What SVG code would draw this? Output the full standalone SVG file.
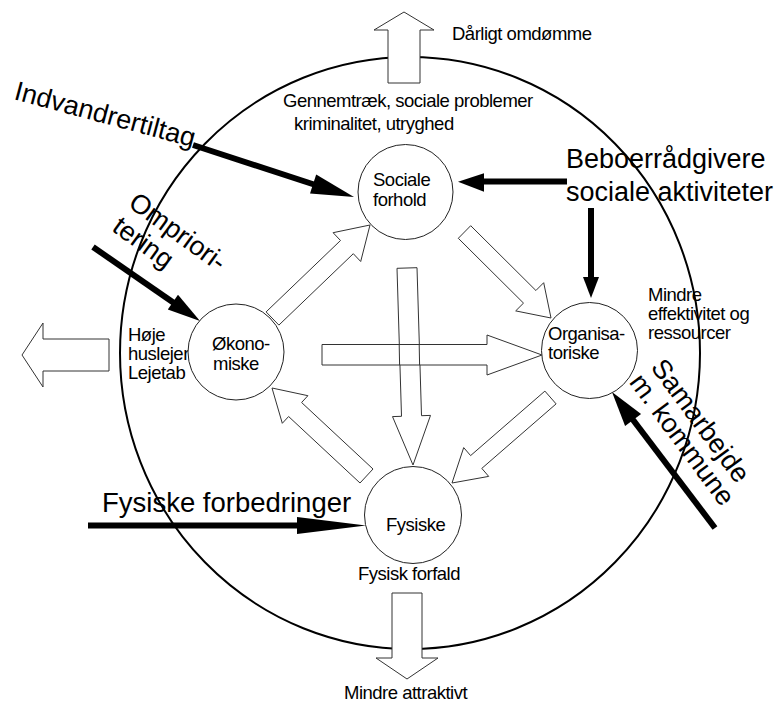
<svg xmlns="http://www.w3.org/2000/svg" width="780" height="704" viewBox="0 0 780 704">
  <style>
    .bg { fill: #ffffff; }
    .ring { fill: none; stroke: #000; stroke-width: 2; }
    .node { fill: #fff; stroke: #222; stroke-width: 1; }
    .t { font-family: "Liberation Sans", Arial, Helvetica, sans-serif; font-size: 18.5px; letter-spacing: -0.5px; fill: #000; }
    .big { font-family: "Liberation Sans", Arial, Helvetica, sans-serif; font-size: 27px; fill: #000; }
    .hollow { fill: #fff; stroke: #333; stroke-width: 1; stroke-linejoin: miter; }
    .hollow-x { fill: none; stroke: #333; stroke-width: 1; }
    .shaft { stroke: #000; stroke-width: 6; fill: none; }
    .head { fill: #000; stroke: none; }
  </style>

  <rect class="bg" x="0" y="0" width="780" height="704"/>

  <!-- outer boundary -->
  <ellipse class="ring" cx="410" cy="353" rx="290" ry="296"/>

  <!-- outward effects -->
  <g id="effects">
    <polygon class="hollow" points="388,83 388,30 374,30 404,12 434,30 420,30 420,83"/>
    <text class="t" x="452" y="40">Dårligt omdømme</text>
    <polygon class="hollow" points="109,339 43,339 43,323 22,355 43,387 43,371 109,371"/>
    <text class="t" x="128" y="341">Høje</text>
    <text class="t" x="128" y="360">huslejer</text>
    <text class="t" x="128" y="379">Lejetab</text>
    <polygon class="hollow" points="392,593 392,658 376,658 407,679 438,658 422,658 422,593"/>
    <text class="t" x="344" y="699">Mindre attraktivt</text>
    <text class="t" x="283" y="107">Gennemtræk, sociale problemer</text>
    <text class="t" x="294" y="130">kriminalitet, utryghed</text>
    <text class="t" x="648" y="301">Mindre</text>
    <text class="t" x="648" y="320">effektivitet og</text>
    <text class="t" x="648" y="339">ressourcer</text>
    <text class="t" x="358" y="580">Fysisk forfald</text>
  </g>

  <!-- connectors between the four areas -->
  <g id="connectors">
    <!-- Økonomiske to Sociale -->
    <polygon class="hollow" points="278.9,325.1 353.3,253.7 360.7,261.5 370,225 333.1,232.7 340.5,240.5 266.1,311.9"/>
    <!-- Sociale to Organisatoriske -->
    <polygon class="hollow" points="458.3,238.3 523.5,303.1 515.7,310.9 551,318 543.7,282.7 535.9,290.5 470.7,225.7"/>
    <!-- Sociale to Fysiske -->
    <polygon class="hollow" points="397,268.3 401.5,416.3 392.5,416.6 413,465 430.5,415.4 421.5,415.7 417,267.7"/>
    <!-- Økonomiske to Organisatoriske -->
    <polygon class="hollow" points="322,344.5 487,344.5 487,335 542,355 487,375 487,365 322,365"/>
    <!-- vertical shaft lines drawn over the crossing -->
    <line class="hollow-x" x1="399.2" y1="344.5" x2="399.6" y2="365"/>
    <line class="hollow-x" x1="419.2" y1="344.5" x2="419.6" y2="365"/>
    <!-- Organisatoriske to Fysiske -->
    <polygon class="hollow" points="544.9,391.1 470.6,455.6 463.7,447.6 452,483 488.7,476.4 481.8,468.4 556.1,403.9"/>
    <!-- Fysiske to Økonomiske -->
    <polygon class="hollow" points="373,469 301.6,402.5 307.9,395.7 272,388 282.3,423.3 288.6,416.5 360,483"/>

    <!-- measures acting from outside -->
    <line class="shaft" x1="193" y1="145" x2="314" y2="184.5"/>
    <polygon class="head" points="310,193.5 354,197 316.2,174.5"/>

    <line class="shaft" x1="567" y1="181.5" x2="482" y2="181.5"/>
    <polygon class="head" points="484,173.3 458,181.7 484,191.7"/>

    <line class="shaft" x1="591" y1="208" x2="591" y2="278"/>
    <polygon class="head" points="583,277 591,298 599,277"/>

    <line class="shaft" x1="715" y1="528" x2="632" y2="418.5"/>
    <polygon class="head" points="641.1,413.9 612,392 625.1,425.9"/>

    <line class="shaft" x1="93" y1="247" x2="174" y2="303"/>
    <polygon class="head" points="167.8,309.6 200,321 178,294.8"/>

    <line class="shaft" x1="88" y1="525.5" x2="298" y2="525.5"/>
    <polygon class="head" points="297,517 366,525.5 297,534"/>
  </g>

  <!-- the four areas -->
  <g id="node-sociale">
    <circle class="node" cx="405.5" cy="192" r="47.5"/>
    <text class="t" x="373" y="186">Sociale</text>
    <text class="t" x="373" y="206">forhold</text>
  </g>
  <g id="node-okonomiske">
    <circle class="node" cx="236" cy="352" r="48"/>
    <text class="t" x="212" y="349.5">Økono-</text>
    <text class="t" x="213" y="369.5">miske</text>
  </g>
  <g id="node-organisatoriske">
    <circle class="node" cx="589.5" cy="350.5" r="48"/>
    <text class="t" x="548" y="340">Organisa-</text>
    <text class="t" x="548" y="359">toriske</text>
  </g>
  <g id="node-fysiske">
    <circle class="node" cx="413" cy="515" r="48.5"/>
    <text class="t" x="386" y="531">Fysiske</text>
  </g>

  <!-- measure labels -->
  <g id="measures">
    <text class="big" transform="translate(13,99) rotate(15)">Indvandrertiltag</text>
    <text class="big" transform="translate(127,206) rotate(36)"><tspan x="0" y="0">Ompriori-</tspan><tspan x="1" y="29">tering</tspan></text>
    <text class="big" x="566" y="168">Beboerrådgivere</text>
    <text class="big" x="566" y="201">sociale aktiviteter</text>
    <text class="big" transform="translate(650,367.5) rotate(53.5)"><tspan x="0" y="0">Samarbejde</tspan><tspan x="-1" y="26">m. kommune</tspan></text>
    <text class="big" x="102" y="512" style="font-size:27.5px">Fysiske forbedringer</text>
  </g>
</svg>
